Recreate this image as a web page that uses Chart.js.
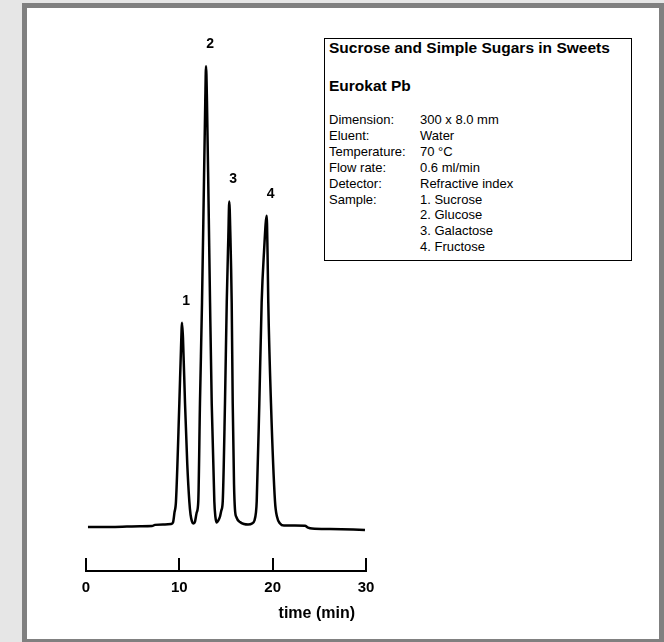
<!DOCTYPE html>
<html>
<head>
<meta charset="utf-8">
<script src="https://cdn.jsdelivr.net/npm/chart.js@4/dist/chart.umd.min.js"></script>
<style>
  html, body { margin: 0; padding: 0; }
  body {
    width: 664px; height: 642px; position: relative; overflow: hidden;
    background: #e6e6e6; font-family: "Liberation Sans", Arial, sans-serif; color: #000;
  }
  .frame {
    position: absolute; left: 22px; top: 3px; width: 632px; height: 631px;
    border: 5px solid #808080; background: #fff;
  }
  #chromChart { position: absolute; left: 0; top: 0; }
  .method-box {
    position: absolute; left: 324px; top: 38px; width: 302px; height: 221px;
    padding-left: 4px; border: 1px solid #000; background: #fff;
  }
  .method-box .title { font-weight: bold; font-size: 15.5px; line-height: 18px; }
  .method-box .column { font-weight: bold; font-size: 15.5px; line-height: 18px; margin-top: 20px; }
  .method-box .params {
    display: grid; grid-template-columns: 91px auto;
    font-size: 13px; line-height: 15.9px; margin-top: 17px;
  }
</style>
</head>
<body>
<div class="frame"></div>
<canvas id="chromChart" width="664" height="642"></canvas>
<div class="method-box">
  <div class="title">Sucrose and Simple Sugars in Sweets</div>
  <div class="column">Eurokat Pb</div>
  <div class="params">
    <span>Dimension:</span><span>300 x 8.0 mm</span>
    <span>Eluent:</span><span>Water</span>
    <span>Temperature:</span><span>70 °C</span>
    <span>Flow rate:</span><span>0.6 ml/min</span>
    <span>Detector:</span><span>Refractive index</span>
    <span>Sample:</span><span>1. Sucrose</span>
    <span></span><span>2. Glucose</span>
    <span></span><span>3. Galactose</span>
    <span></span><span>4. Fructose</span>
  </div>
</div>
<script>
// RI trace, time in min, response relative to the glucose peak (= 100)
const times = [
  0.21, 2.57, 4.39, 5.79, 7.07, 7.39, 8.46, 9.11, 9.32, 9.48,
  9.64, 10.00, 10.18, 10.29, 10.39, 10.61, 10.85, 11.07, 11.20, 11.36,
  11.50, 11.68, 11.86, 12.03, 12.21, 12.43, 12.64, 12.78, 12.86, 12.96,
  13.13, 13.29, 13.47, 13.75, 13.86, 14.01, 14.18, 14.36, 14.50, 14.65,
  14.89, 15.08, 15.25, 15.35, 15.46, 15.61, 15.72, 15.86, 15.96, 16.13,
  16.50, 16.93, 17.36, 17.79, 18.05, 18.21, 18.29, 18.57, 18.82, 19.07,
  19.36, 19.45, 19.53, 19.82, 20.25, 20.46, 20.79, 21.21, 22.39, 23.46,
  23.79, 24.21, 26.14, 29.89
];
const signal = [
  -0.07, -0.07, 0.00, 0.07, 0.11, 0.37, 0.44, 0.55, 0.88, 3.07,
  5.48, 26.75, 38.8, 44.3, 41.0, 26.75, 13.6, 5.48, 2.63, 1.10,
  0.66, 1.10, 3.07, 5.48, 26.75, 48.7, 75.0, 92.5, 100.0, 92.5,
  70.6, 48.7, 26.75, 5.48, 2.19, 0.88, 1.32, 2.19, 3.51, 5.48,
  26.75, 48.7, 62.9, 70.6, 64.0, 48.7, 26.75, 9.21, 3.73, 1.97,
  0.99, 0.55, 0.44, 0.66, 1.32, 3.07, 5.48, 26.75, 48.7, 59.6,
  67.5, 59.6, 48.7, 26.75, 5.48, 2.19, 0.66, 0.22, 0.22, 0.18,
  -0.22, -0.44, -0.55, -0.72
];
// peak numbers and their apex times
const peakNames = ['1', '2', '3', '4'];
const peakTimes = [10.29, 12.86, 15.35, 19.36];
const xTicks = [0, 10, 20, 30];

const FONT = '"Liberation Sans", Arial, sans-serif';

const chromPlugin = {
  id: 'chromDecor',
  afterDraw(chart) {
    const { ctx, chartArea } = chart;
    const xs = chart.scales.x;
    const ys = chart.scales.y;
    ctx.save();

    // tick marks stand up from the time axis
    ctx.strokeStyle = '#000';
    ctx.lineWidth = 2;
    xTicks.forEach(v => {
      const px = Math.round(xs.getPixelForValue(v));
      ctx.beginPath();
      ctx.moveTo(px, chartArea.bottom);
      ctx.lineTo(px, chartArea.bottom - 13);
      ctx.stroke();
    });

    // axis caption
    ctx.fillStyle = '#000';
    ctx.font = 'bold 16px ' + FONT;
    ctx.textAlign = 'right';
    ctx.textBaseline = 'middle';
    ctx.fillText('time (min)', chartArea.right - 11, chartArea.bottom + 43);

    // peak numbers above each apex
    ctx.font = 'bold 14px ' + FONT;
    ctx.textAlign = 'center';
    peakTimes.forEach((t, i) => {
      const idx = times.indexOf(t);
      const px = xs.getPixelForValue(t);
      const py = ys.getPixelForValue(signal[idx]);
      ctx.fillText(peakNames[i], px + 4, py - 22);
    });
    ctx.restore();
  }
};

new Chart(document.getElementById('chromChart').getContext('2d'), {
  type: 'line',
  data: {
    datasets: [{
      data: times.map((t, i) => ({ x: t, y: signal[i] })),
      borderColor: '#000',
      borderWidth: 2.5,
      pointRadius: 0,
      fill: false,
      cubicInterpolationMode: 'monotone',
      borderJoinStyle: 'round'
    }]
  },
  options: {
    responsive: false,
    animation: false,
    layout: { padding: { left: 86, right: 298, top: 40, bottom: 45 } },
    plugins: { legend: { display: false }, tooltip: { enabled: false } },
    scales: {
      x: {
        type: 'linear', min: 0, max: 30,
        grid: { display: false },
        border: { display: true, color: '#000', width: 2 },
        ticks: {
          stepSize: 10, padding: 0, color: '#000',
          font: { family: FONT, size: 15, weight: 'bold' }
        }
      },
      y: { display: false, min: -9.65, max: 105.7 }
    }
  },
  plugins: [chromPlugin]
});
</script>
</body>
</html>
